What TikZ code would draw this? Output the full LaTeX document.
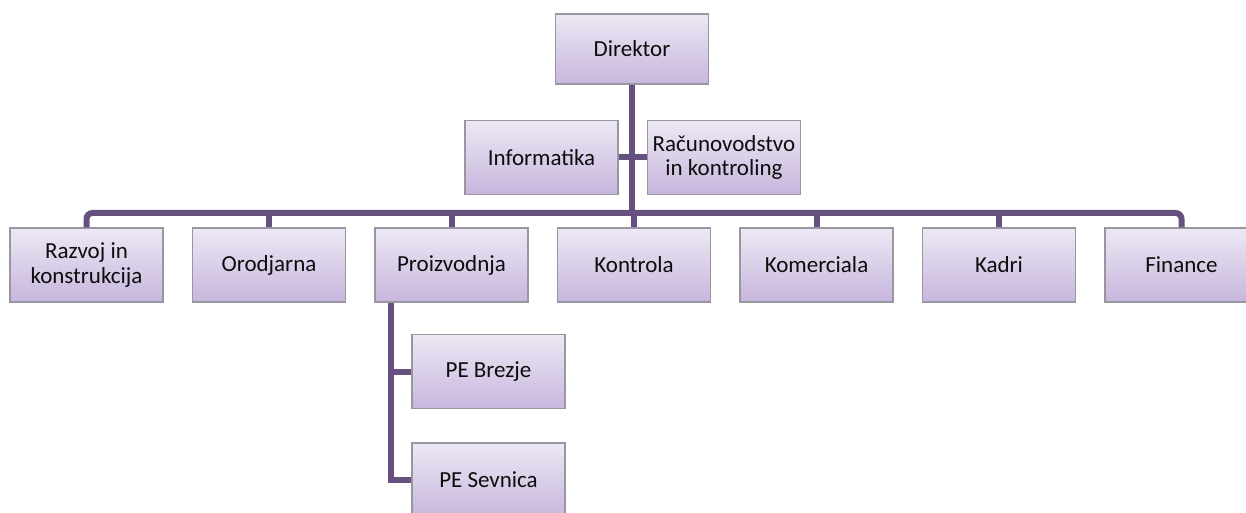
\documentclass[tikz,border=0pt]{standalone}
\usepackage{fontspec}
\setmainfont{Carlito}
\usetikzlibrary{positioning,calc}
\definecolor{Ink}{HTML}{0D0D0D}
\definecolor{Frame}{HTML}{9A96A0}
\definecolor{BoxTop}{HTML}{EDE8F4}
\definecolor{BoxBottom}{HTML}{C7B6DD}
\definecolor{Link}{HTML}{66507F}
\begin{document}
\begin{tikzpicture}[x=0.5pt,y=-0.5pt,
  unit/.style={draw=Frame,line width=0.6pt,top color=BoxTop,bottom color=BoxBottom,
    minimum width=76.5pt,minimum height=37pt,inner sep=0pt,align=center,
    font=\fontsize{11.5}{12.2}\selectfont,text=Ink},
  link/.style={Link,line width=3pt}]
\clip (0,0) rectangle (1246,513);
\fill[white] (0,0) rectangle (1246,513);
\node[unit,minimum height=35pt] (direktor) at (632,49) {Direktor};
\node[unit] (informatika) at (541.5,157.5) {Informatika};
\node[unit] (racunovodstvo) at (724,157.5) {Računovodstvo\\in kontroling};
\node[unit] (razvoj) at (86.5,265) {Razvoj in\\konstrukcija};
\node[unit] (orodjarna) at (269,265) {Orodjarna};
\node[unit] (proizvodnja) at (451.5,265) {Proizvodnja};
\node[unit] (kontrola) at (634,265) {Kontrola};
\node[unit] (komerciala) at (816.5,265) {Komerciala};
\node[unit] (kadri) at (999,265) {Kadri};
\node[unit] (finance) at (1181.5,265) {Finance};
\node[unit] (brezje) at (488.5,371.5) {PE Brezje};
\node[unit] (sevnica) at (488.5,480) {PE Sevnica};
\coordinate (bus) at (633,213);
\coordinate (pe) at ([xshift=8.5pt]proizvodnja.south west);
\draw[link] (direktor.south) -- (direktor.south |- bus);
\draw[link] (informatika.east) -- (informatika.east -| direktor.south);
\draw[link] (racunovodstvo.west) -- (racunovodstvo.west -| direktor.south);
\draw[link,rounded corners=3pt] (razvoj.north) -- (razvoj.north |- bus) -- (finance.north |- bus) -- (finance.north);
\foreach \n in {orodjarna,proizvodnja,kontrola,komerciala,kadri}
  \draw[link] (\n.north) -- (\n.north |- bus);
\draw[link] (pe) |- (sevnica.west);
\draw[link] (brezje.west) -- (brezje.west -| pe);
\end{tikzpicture}
\end{document}
